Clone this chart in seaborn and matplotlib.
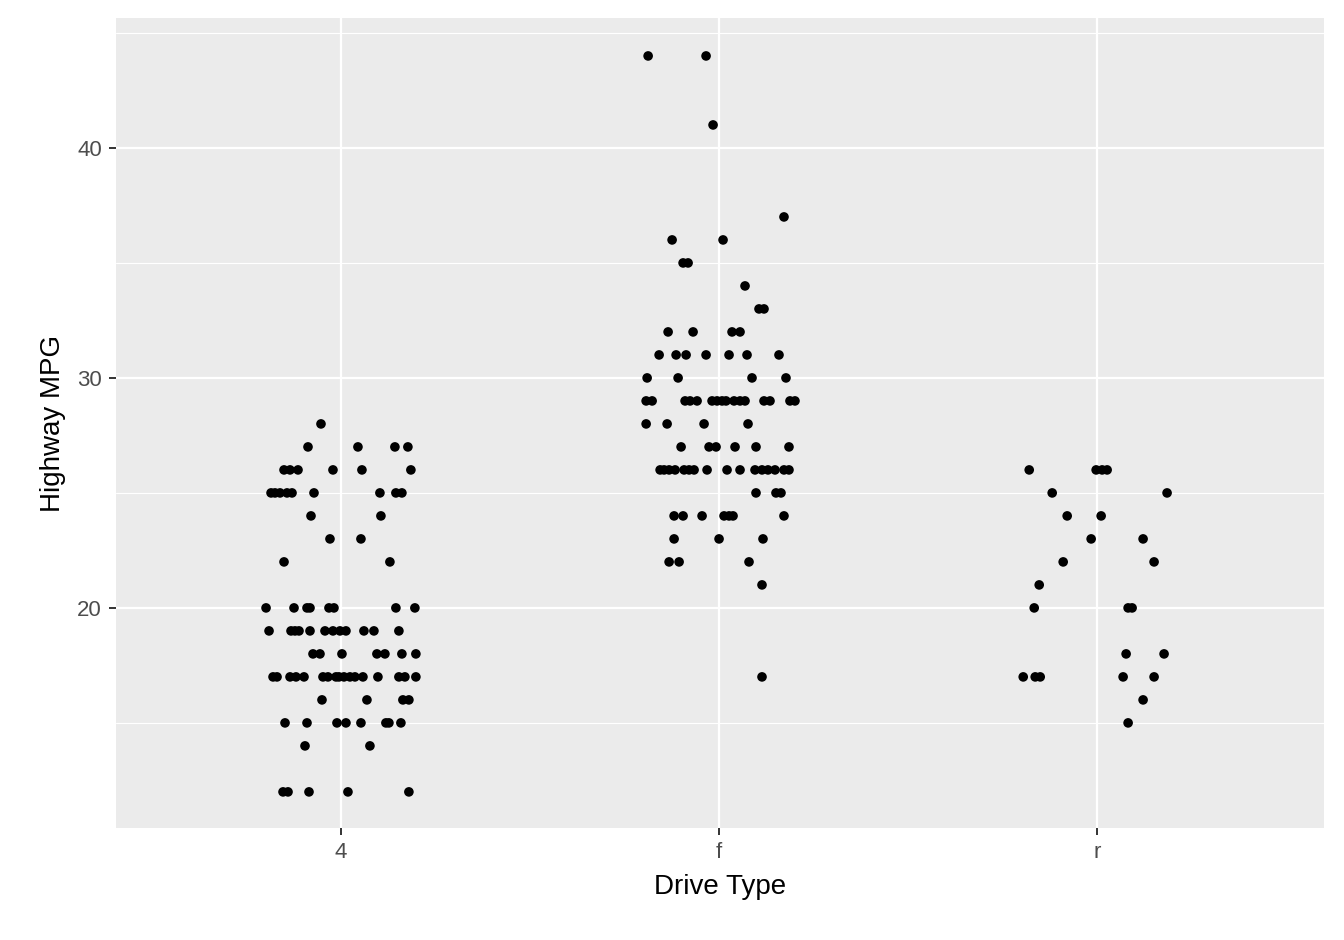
import matplotlib
matplotlib.use("Agg")
import matplotlib.pyplot as plt
import seaborn as sns
import pandas as pd
import numpy as np

categories = ["4", "f", "r"]
# (pixel x, highway mpg) per drive type
hwy_4 = {28: [321], 27: [308, 358, 395, 408], 26: [284, 290, 298, 333, 362, 411],
         25: [271, 275, 280, 287, 292, 314, 380, 396, 402], 24: [311, 381], 23: [330, 361],
         22: [284, 390], 20: [266, 294, 307, 310, 329, 334, 396, 415],
         19: [269, 291, 295, 299, 310, 325, 333, 340, 346, 364, 374, 399],
         18: [313, 320, 342, 377, 385, 402, 416],
         17: [273, 277, 290, 296, 304, 323, 328, 336, 339, 344, 350, 355, 363, 378, 399, 405, 416],
         16: [322, 367, 403, 409], 15: [285, 307, 337, 346, 361, 386, 389, 401],
         14: [305, 370], 12: [283, 288, 309, 348, 409]}
hwy_f = {44: [648, 706], 41: [713], 37: [784], 36: [672, 723], 35: [683, 688], 34: [745],
         33: [759, 764], 32: [668, 693, 732, 740], 31: [659, 676, 686, 706, 729, 747, 779],
         30: [647, 678, 752, 786],
         29: [646, 652, 685, 690, 697, 712, 717, 722, 726, 734, 740, 745, 764, 770, 790, 795],
         28: [646, 667, 704, 748], 27: [681, 709, 716, 735, 756, 789],
         26: [660, 664, 669, 675, 684, 689, 694, 707, 727, 740, 755, 762, 768, 775, 784, 789],
         25: [756, 776, 781], 24: [674, 683, 702, 724, 729, 733, 784], 23: [674, 719, 763],
         22: [669, 679, 749], 21: [762], 17: [762]}
hwy_r = {26: [1030, 1097, 1103, 1108], 25: [1053, 1168], 24: [1068, 1102], 23: [1092, 1144],
         22: [1064, 1155], 21: [1040], 20: [1035, 1129, 1133], 18: [1127, 1165],
         17: [1024, 1036, 1041, 1124, 1155], 16: [1144], 15: [1129]}
centers_px = [341, 719, 1098]
px_per_cat = 378.5

rows = []
for i, d in enumerate([hwy_4, hwy_f, hwy_r]):
    for val, xs in d.items():
        for px in xs:
            rows.append({"x": i + (px - centers_px[i]) / px_per_cat, "hwy": val})
df = pd.DataFrame(rows)

sns.set_theme(style="darkgrid")
plt.rcParams['font.family'] = ['Liberation Sans', 'DejaVu Sans']
fig = plt.figure(figsize=(13.44, 9.4), dpi=100)
ax = fig.add_axes([116/1344, 1-828/940, (1324-116)/1344, (828-18)/940])
ax.set_facecolor("#EBEBEB")
sns.scatterplot(data=df, x="x", y="hwy", ax=ax, color="black", s=48, edgecolor="none", legend=False)
ax.set_xlim(-0.595, 2.6)
ax.set_ylim(10.43, 45.65)
ax.set_xticks([0, 1, 2], categories)
ax.set_yticks([20, 30, 40])
ax.set_yticks([15, 25, 35, 45], minor=True)
ax.grid(which="major", color="white", linewidth=1.6)
ax.grid(which="minor", axis="y", color="white", linewidth=0.8)
for s in ax.spines.values():
    s.set_visible(False)
ax.tick_params(which="major", length=5, width=1.4, color="#333333", labelsize=16, labelcolor="#4D4D4D", pad=5, bottom=True, left=True)
ax.tick_params(which="minor", length=0)
ax.set_xlabel("Drive Type", fontsize=20, color="black", labelpad=8)
ax.set_ylabel("Highway MPG", fontsize=20, color="black", labelpad=8)
fig.savefig("out.png", dpi=100)
